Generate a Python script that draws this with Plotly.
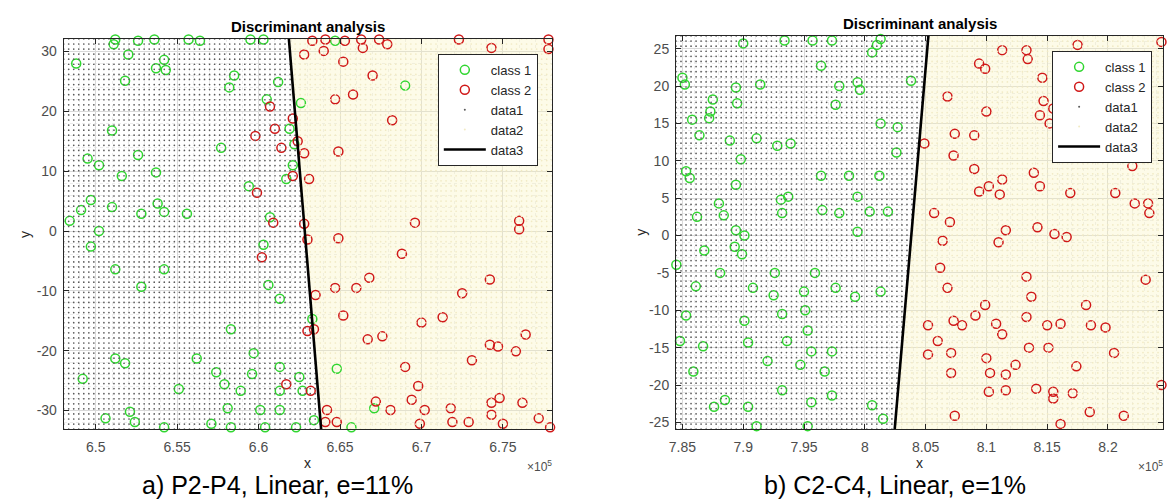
import numpy as np
import plotly.graph_objects as go

W, H = 1172, 502

# ---------------- panel a) P2-P4 (x in units of 1e5) ----------------
a_class1 = [(6.511, 31.2), (6.512, 32.0), (6.520, 29.5), (6.526, 31.8), (6.536, 32.0), (6.542, 28.6),
            (6.543, 26.9), (6.537, 27.2), (6.488, 28.0), (6.518, 25.1), (6.557, 32.0), (6.564, 31.8),
            (6.585, 26.0), (6.582, 24.0), (6.595, 32.0), (6.603, 32.0), (6.612, 24.9), (6.605, 22.0),
            (6.626, 21.4), (6.619, 17.1), (6.622, 14.5), (6.621, 11.0), (6.617, 8.7), (6.647, 31.8),
            (6.690, 24.3), (6.510, 16.8), (6.495, 12.1), (6.502, 11.0), (6.526, 12.7), (6.516, 9.2),
            (6.537, 9.8), (6.577, 13.9), (6.594, 7.5), (6.497, 5.2), (6.491, 3.5), (6.484, 1.7),
            (6.510, 4.0), (6.528, 2.9), (6.538, 4.6), (6.542, 3.2), (6.556, 2.9), (6.502, 0.0),
            (6.497, -2.6), (6.607, 2.3), (6.603, -2.3), (6.480, -5.8), (6.512, -6.4), (6.542, -6.4),
            (6.528, -9.3), (6.606, -9.0), (6.613, -11.3), (6.583, -16.4), (6.633, -14.7), (6.512, -21.3),
            (6.518, -22.1), (6.562, -21.3), (6.597, -20.4), (6.492, -24.7), (6.613, -22.7), (6.574, -23.6),
            (6.579, -25.6), (6.596, -23.9), (6.551, -26.4), (6.589, -26.7), (6.613, -26.7), (6.625, -24.4),
            (6.627, -26.7), (6.648, -23.0), (6.581, -29.6), (6.601, -29.9), (6.613, -29.9), (6.506, -31.3),
            (6.521, -30.2), (6.524, -31.9), (6.571, -32.2), (6.583, -32.8), (6.542, -32.8), (6.604, -32.8),
            (6.623, -32.8), (6.657, -32.8), (6.671, -29.6), (6.634, -31.6)]
a_class2 = [(6.628, 29.5), (6.633, 31.8), (6.640, 30.1), (6.641, 32.0), (6.653, 31.8), (6.652, 28.3),
            (6.664, 30.6), (6.663, 32.0), (6.674, 32.0), (6.679, 31.2), (6.723, 32.0), (6.743, 30.6),
            (6.778, 32.0), (6.778, 30.4), (6.670, 26.0), (6.647, 22.0), (6.658, 22.8), (6.682, 18.5),
            (6.607, 20.8), (6.598, 15.9), (6.610, 17.1), (6.614, 13.9), (6.624, 15.0), (6.628, 13.0),
            (6.649, 13.3), (6.621, 9.2), (6.631, 8.7), (6.599, 6.4), (6.621, 18.8), (6.609, 1.4),
            (6.628, 1.2), (6.630, -1.4), (6.649, -1.2), (6.696, 1.4), (6.760, 1.7), (6.760, 0.3),
            (6.688, -3.8), (6.602, -4.4), (6.635, -10.7), (6.647, -9.5), (6.660, -9.5), (6.668, -7.8),
            (6.652, -14.1), (6.634, -16.4), (6.630, -16.7), (6.667, -18.1), (6.676, -17.6), (6.700, -15.3),
            (6.713, -14.4), (6.725, -10.4), (6.742, -8.1), (6.742, -19.0), (6.747, -19.3), (6.758, -20.1),
            (6.764, -17.3), (6.731, -21.6), (6.690, -22.7), (6.698, -25.9), (6.694, -28.2), (6.702, -29.9),
            (6.681, -29.9), (6.672, -28.5), (6.642, -29.9), (6.641, -31.9), (6.648, -31.9), (6.718, -29.6),
            (6.719, -31.9), (6.729, -31.9), (6.699, -32.2), (6.743, -28.7), (6.748, -27.9), (6.743, -30.7),
            (6.750, -32.2), (6.762, -28.7), (6.772, -31.3), (6.779, -32.8), (6.632, -26.7), (6.617, -25.6)]
a_line_x = [6.6186, 6.6384]
a_line_y = [32.1, -33.1]
a_xrange = [6.4803, 6.780]
a_yrange = [-33.1, 32.1]
a_xticks = [6.5, 6.55, 6.6, 6.65, 6.7, 6.75]
a_xticklabels = ["6.5", "6.55", "6.6", "6.65", "6.7", "6.75"]
a_yticks = [-30, -20, -10, 0, 10, 20, 30]
a_yticklabels = ["-30", "-20", "-10", "0", "10", "20", "30"]
a_caption = "a) P2-P4, Linear, e=11%"

# ---------------- panel b) C2-C4 ----------------
b_class1 = [(7.852, 20.2), (7.850, 21.1), (7.858, 15.5), (7.864, 13.4), (7.873, 16.6), (7.872, 15.7),
            (7.875, 18.2), (7.853, 8.6), (7.856, 7.7), (7.880, 4.3), (7.862, 2.5), (7.884, 2.7),
            (7.894, 6.8), (7.894, 0.7), (7.901, 0.0), (7.894, 19.8), (7.895, 17.7), (7.900, 25.7),
            (7.889, 12.7), (7.898, 10.2), (7.911, 13.0), (7.914, 20.2), (7.928, 12.0), (7.939, 12.3),
            (7.934, 26.1), (7.931, 4.8), (7.937, 5.2), (7.932, 3.0), (7.957, 26.1), (7.973, 26.1),
            (7.964, 22.7), (7.964, 8.0), (7.965, 3.4), (7.979, 20.0), (7.979, 3.0), (7.976, 17.5),
            (7.987, 8.0), (7.996, 19.5), (7.994, 20.5), (7.994, 5.2), (7.994, 0.5), (8.004, 3.2),
            (8.019, 3.2), (8.010, 25.5), (8.006, 24.5), (8.013, 26.3), (8.013, 15.0), (8.027, 14.5),
            (8.012, 8.0), (8.026, 11.1), (8.038, 20.7), (7.868, -2.0), (7.893, -1.5), (7.899, -2.5),
            (7.845, -3.9), (7.861, -6.8), (7.881, -5.0), (7.908, -7.0), (7.926, -5.0), (7.925, -8.0),
            (7.950, -7.5), (7.959, -5.0), (7.976, -7.0), (7.992, -8.2), (8.013, -7.5), (7.853, -10.7),
            (7.901, -11.4), (7.932, -10.5), (7.951, -10.0), (7.953, -12.7), (7.848, -14.1), (7.867, -14.8),
            (7.904, -14.3), (7.936, -14.1), (7.956, -15.5), (7.973, -15.5), (7.920, -16.8), (7.947, -17.3),
            (7.967, -18.2), (7.859, -18.2), (7.885, -22.0), (7.876, -22.9), (7.904, -22.9), (7.932, -20.7),
            (7.956, -22.3), (7.973, -21.4), (8.006, -22.7), (8.015, -24.5), (7.911, -25.5), (7.953, -25.5)]
b_class2 = [(8.049, 12.3), (8.068, 18.6), (8.073, 10.7), (8.074, 13.6), (8.090, 13.4), (8.094, 23.0),
            (8.099, 22.3), (8.113, 24.8), (8.133, 24.8), (8.134, 23.6), (8.100, 16.6), (8.090, 8.9),
            (8.094, 5.9), (8.102, 6.6), (8.113, 7.5), (8.111, 5.5), (8.139, 8.4), (8.144, 6.6),
            (8.057, 3.0), (8.070, 1.8), (8.064, -0.7), (8.116, 0.7), (8.110, -0.9), (8.142, 1.1),
            (8.156, 0.2), (8.166, -0.2), (8.146, 21.1), (8.147, 18.0), (8.144, 16.1), (8.152, 15.0),
            (8.155, 17.0), (8.160, 10.7), (8.177, 11.6), (8.175, 25.5), (8.169, 5.7), (8.206, 5.7),
            (8.220, 9.3), (8.222, 4.3), (8.234, 3.0), (8.233, 4.3), (8.244, 25.9), (8.163, 19.5),
            (8.062, -4.3), (8.068, -7.0), (8.133, -5.5), (8.231, -5.9), (8.099, -9.3), (8.091, -10.7),
            (8.137, -8.2), (8.182, -9.3), (8.052, -12.0), (8.073, -11.4), (8.080, -12.0), (8.108, -11.8),
            (8.113, -13.2), (8.133, -10.9), (8.150, -12.0), (8.161, -11.8), (8.186, -12.0), (8.198, -12.3),
            (8.060, -14.1), (8.071, -15.7), (8.052, -15.9), (8.100, -16.4), (8.135, -15.0), (8.151, -15.0),
            (8.205, -15.7), (8.124, -17.3), (8.116, -18.6), (8.103, -18.4), (8.071, -18.4), (8.174, -17.5),
            (8.102, -20.9), (8.116, -20.7), (8.141, -20.5), (8.155, -20.9), (8.155, -21.8), (8.171, -21.1),
            (8.185, -23.6), (8.074, -24.1), (8.161, -25.2), (8.213, -24.1), (8.244, -20.0)]
b_line_x = [8.0523, 8.0246]
b_line_y = [26.7, -25.9]
b_xrange = [7.8447, 8.2453]
b_yrange = [-25.9, 26.7]
b_xticks = [7.85, 7.9, 7.95, 8.0, 8.05, 8.1, 8.15, 8.2, 8.25]
b_xticklabels = ["7.85", "7.9", "7.95", "8", "8.05", "8.1", "8.15", "8.2", "8.25"]
b_yticks = [-25, -20, -15, -10, -5, 0, 5, 10, 15, 20, 25]
b_yticklabels = ["-25", "-20", "-15", "-10", "-5", "0", "5", "10", "15", "20", "25"]
b_caption = "b) C2-C4, Linear, e=1%"

# evaluation grid resolution of the classifier (data1 / data2)
GRID_NX, GRID_NY = 98, 78

FONT = "Liberation Sans, Arial, Helvetica, sans-serif"
GREEN = "#30d630"
RED = "#d01818"
AXC = "#262626"
TICKC = "#4d4d4d"


def px_x(p):
    return p / W


def px_y(p):
    return 1 - p / H


panels = [
    dict(c1=a_class1, c2=a_class2, lx=a_line_x, ly=a_line_y, xr=a_xrange, yr=a_yrange,
         xt=a_xticks, xtl=a_xticklabels, yt=a_yticks, ytl=a_yticklabels, cap=a_caption,
         dom_x=(57, 548), dom_y=(39, 430), legend="legend", leg_xy=(534, 54),
         cap_x=272, ylab_x=18, ydt=2),
    dict(c1=b_class1, c2=b_class2, lx=b_line_x, ly=b_line_y, xr=b_xrange, yr=b_yrange,
         xt=b_xticks, xtl=b_xticklabels, yt=b_yticks, ytl=b_yticklabels, cap=b_caption,
         dom_x=(673, 1163), dom_y=(36, 430), legend="legend2", leg_xy=(1152, 51),
         cap_x=893, ylab_x=637, ydt=1),
]

fig = go.Figure()
annotations = []
layout_axes = {}

for i, p in enumerate(panels):
    xa = "x" if i == 0 else "x2"
    ya = "y" if i == 0 else "y2"
    leg = p["legend"]

    (xt0, xb0), (yt0, yb0) = p["lx"], p["ly"]

    def xline(y):
        return xt0 + (np.asarray(y) - yt0) * (xb0 - xt0) / (yb0 - yt0)

    gx = np.linspace(p["xr"][0], p["xr"][1], GRID_NX)
    gy = np.linspace(p["yr"][0], p["yr"][1], GRID_NY)
    GX, GY = np.meshgrid(gx, gy)
    left = GX < xline(GY)

    # class-2 decision region shading
    fig.add_trace(go.Scatter(
        x=[xt0, p["xr"][1], p["xr"][1], xb0, xt0], y=[yt0, yt0, yb0, yb0, yt0],
        mode="lines", fill="toself", fillcolor="rgba(250,242,185,0.32)",
        line=dict(width=0), hoverinfo="skip", showlegend=False, xaxis=xa, yaxis=ya))

    c1x, c1y = zip(*p["c1"])
    c2x, c2y = zip(*p["c2"])
    fig.add_trace(go.Scatter(x=c1x, y=c1y, mode="markers", name="class 1", legend=leg,
                             marker=dict(symbol="circle-open", size=9, color=GREEN,
                                         line=dict(width=1.5, color=GREEN)),
                             cliponaxis=False, xaxis=xa, yaxis=ya))
    fig.add_trace(go.Scatter(x=c2x, y=c2y, mode="markers", name="class 2", legend=leg,
                             marker=dict(symbol="circle-open", size=9, color=RED,
                                         line=dict(width=1.5, color=RED)),
                             cliponaxis=False, xaxis=xa, yaxis=ya))
    fig.add_trace(go.Scatter(x=GX[left], y=GY[left], mode="markers", name="data1", legend=leg,
                             marker=dict(size=1.7, color="#5a5a5a", line=dict(width=0)),
                             hoverinfo="skip", xaxis=xa, yaxis=ya))
    fig.add_trace(go.Scatter(x=GX[~left], y=GY[~left], mode="markers", name="data2", legend=leg,
                             marker=dict(size=1.7, color="#f1eac4", line=dict(width=0)),
                             hoverinfo="skip", xaxis=xa, yaxis=ya))
    fig.add_trace(go.Scatter(x=p["lx"], y=p["ly"], mode="lines", name="data3", legend=leg,
                             line=dict(color="black", width=2.6), xaxis=xa, yaxis=ya))

    axis_common = dict(showline=True, linecolor=AXC, linewidth=1, mirror="ticks",
                       ticks="inside", ticklen=5, tickcolor=AXC, showgrid=True,
                       gridcolor="#d9d9d9", gridwidth=1, zeroline=False,
                       tickfont=dict(family=FONT, size=14, color=TICKC))
    layout_axes["xaxis" if i == 0 else "xaxis2"] = dict(
        axis_common, domain=[px_x(p["dom_x"][0]), px_x(p["dom_x"][1])], range=p["xr"],
        tickvals=p["xt"], ticktext=p["xtl"], anchor=ya, ticklabelstandoff=5,
        minor=dict(dtick=0.01, showgrid=True, gridcolor="#ececec", griddash="dot", ticks=""))
    layout_axes["yaxis" if i == 0 else "yaxis2"] = dict(
        axis_common, domain=[px_y(p["dom_y"][1]), px_y(p["dom_y"][0])], range=p["yr"],
        tickvals=p["yt"], ticktext=p["ytl"], anchor=xa, ticklabelstandoff=3,
        minor=dict(dtick=p["ydt"], showgrid=True, gridcolor="#ececec", griddash="dot", ticks=""))

    cx = (p["dom_x"][0] + p["dom_x"][1]) / 2
    cy = (p["dom_y"][0] + p["dom_y"][1]) / 2
    annotations += [
        dict(text="<b>Discriminant analysis</b>", x=px_x(cx), y=px_y(p["dom_y"][0] - 2),
             xref="paper", yref="paper", xanchor="center", yanchor="bottom", showarrow=False,
             font=dict(family=FONT, size=15, color="black")),
        dict(text="x", x=px_x(cx), y=px_y(464), xref="paper", yref="paper", xanchor="center",
             yanchor="middle", showarrow=False, font=dict(family=FONT, size=14, color=AXC)),
        dict(text="y", x=px_x(p["ylab_x"]), y=px_y(cy), xref="paper", yref="paper",
             xanchor="center", yanchor="middle", showarrow=False, textangle=-90,
             font=dict(family=FONT, size=14, color=AXC)),
        dict(text="×10<sup>5</sup>", x=px_x(p["dom_x"][1] + 2), y=px_y(467), xref="paper",
             yref="paper", xanchor="right", yanchor="middle", showarrow=False,
             font=dict(family=FONT, size=12, color=TICKC)),
        dict(text=p["cap"], x=px_x(p["cap_x"]), y=px_y(486), xref="paper", yref="paper",
             xanchor="center", yanchor="middle", showarrow=False,
             font=dict(family=FONT, size=25, color="black")),
    ]

legend_style = dict(bgcolor="white", bordercolor=AXC, borderwidth=1, xanchor="right",
                    yanchor="top", font=dict(family=FONT, size=13, color=AXC),
                    tracegroupgap=0, itemwidth=42)

fig.update_layout(
    width=W, height=H, margin=dict(l=0, r=0, t=0, b=0),
    paper_bgcolor="white", plot_bgcolor="white",
    font=dict(family=FONT, size=12, color=AXC),
    legend=dict(legend_style, x=px_x(panels[0]["leg_xy"][0]), y=px_y(panels[0]["leg_xy"][1])),
    legend2=dict(legend_style, x=px_x(panels[1]["leg_xy"][0]), y=px_y(panels[1]["leg_xy"][1])),
    annotations=annotations,
    **layout_axes,
)

fig.write_html("out.html", config={"displayModeBar": False},
               post_script="document.body.style.margin='0';document.body.style.overflow='hidden';")
